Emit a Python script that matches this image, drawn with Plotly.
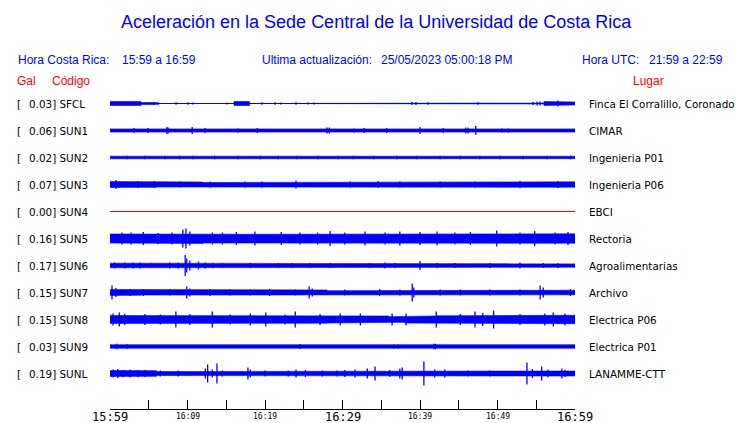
import plotly.graph_objects as go

# ---------------- data ----------------
codes = ["SFCL", "SUN1", "SUN2", "SUN3", "SUN4", "SUN5", "SUN6", "SUN7", "SUN8", "SUN9", "SUNL"]
places = ["Finca El Corralillo, Coronado", "CIMAR", "Ingenieria P01", "Ingenieria P06", "EBCI",
          "Rectoria", "Agroalimentarias", "Archivo", "Electrica P06", "Electrica P01", "LANAMME-CTT"]
gal = [0.03, 0.06, 0.02, 0.07, 0.00, 0.16, 0.17, 0.15, 0.15, 0.03, 0.19]

tick_minutes = [0, 10, 20, 30, 40, 50, 60]
tick_labels = ["15:59", "16:09", "16:19", "16:29", "16:39", "16:49", "16:59"]
tick_major = [True, False, False, True, False, False, True]

# envelope half-width of the continuous noise band, one value per 2-minute bin (15:59 -> 16:59)
band_SFCL = [2, 2, 1, 0, 0, 0, 0, 0, 2, 0, 0, 0, 0, 0, 0, 0, 0, 0, 0, 0, 0, 0, 0, 0, 0, 0, 0, 0.5, 2, 1.5]
band_SUN1 = [1.6, 1.5, 1.5, 1.5, 1.6, 1.5, 1.5, 1.5, 1.2, 1.4, 1.2, 1.5, 1.5, 1.5, 1.8, 1.5, 1.5, 1.5, 1.5, 1.5,
             1.5, 1.5, 1.5, 1.5, 1.3, 1.5, 1.5, 1.5, 1.5, 1.6]
band_SUN2 = [1.3, 1.2, 1.2, 1.3, 1.2, 1.1, 1.2, 1.2, 1.1, 1.2, 1.3, 1.2, 1.2, 1.1, 1.2, 1.2, 1.3, 1.2, 1.2, 1.1,
             1.2, 1.2, 1.2, 1.3, 1.2, 1.2, 1.1, 1.2, 1.3, 1.2]
band_SUN3 = [3, 3, 2.8, 2.5, 2.5, 2.5, 2, 2.5, 2.5, 2, 2, 2.5, 2.5, 2.5, 2.5, 2.5, 2.5, 2.2, 2.5, 2.5,
             2.5, 2.5, 2.5, 2.5, 2.5, 2.5, 2.5, 2.5, 2.7, 2.7]
band_SUN4 = [0, 0, 0, 0, 0, 0, 0, 0, 0, 0, 0, 0, 0, 0, 0, 0, 0, 0, 0, 0, 0, 0, 0, 0, 0, 0, 0, 0, 0, 0]
band_SUN5 = [4.5, 4.5, 4.3, 4.3, 4.3, 5, 4.5, 4.3, 4.2, 4.3, 4.5, 4.5, 4.5, 4.3, 4.3, 4.5, 4.3, 4.5, 4.5, 4.5,
             4.5, 4.5, 4.7, 4.5, 4.5, 4.5, 4.5, 4.5, 4.5, 4.7]
band_SUN6 = [2.3, 2.3, 2, 2, 2.3, 2.3, 2, 1.8, 1.7, 1.7, 1.7, 1.7, 1.7, 1.7, 1.7, 1.7, 1.8, 1.8, 1.7, 1.7,
             1.7, 1.7, 1.7, 1.7, 1.7, 1.7, 1.7, 1.8, 1.7, 1.7]
band_SUN7 = [3, 2.7, 2.5, 2.3, 2.3, 2.5, 2.3, 2.3, 2.3, 2.3, 2.5, 2.5, 2.3, 2.5, 1.8, 1.8, 2.3, 2.3, 2.3, 2.3,
             2.5, 2.3, 2.3, 2.3, 2.3, 2.5, 2.5, 2.3, 1.8, 2.3]
band_SUN8 = [4, 3.7, 3.5, 3.5, 3.5, 3.5, 3.5, 3.7, 3.5, 3.5, 3.5, 3.5, 3.5, 3.7, 3.5, 3.5, 3.5, 3.5, 2.8, 3.5,
             3.5, 3.7, 3.5, 4, 4.2, 3.5, 3.5, 3.5, 4, 4.2]
band_SUN9 = [1.8, 1.8, 1.8, 1.8, 1.8, 1.8, 1.8, 1.8, 1.8, 1.8, 1.8, 1.8, 1.8, 1.8, 1.8, 1.8, 1.8, 1.8, 1.8, 1.8,
             1.8, 1.8, 1.8, 1.8, 1.8, 1.8, 1.8, 1.8, 1.8, 1.8]
band_SUNL = [3, 3, 2.8, 2, 2, 2, 2.3, 2.2, 2, 2, 2, 2, 2, 2, 2, 2.2, 2, 2, 2, 2.2,
             2, 2, 2, 2, 2, 2, 2, 2.2, 2.5, 2.5]

# individual peaks: (minute after 15:59, half amplitude)
spikes_SFCL = [(5.68, 1.5), (6.19, 1.5), (8.52, 1.2), (10.06, 1.2), (10.71, 1), (15.1, 1), (19.6, 1.2),
               (21.3, 1.2), (22.06, 1), (24.0, 1.2), (25.55, 1), (26.3, 1), (38.97, 1.5), (39.48, 1.5),
               (41.03, 1.2), (47.48, 1.2), (54.58, 1.5), (55.1, 2), (55.48, 2), (57.8, 3)]
spikes_SUN1 = [(3.1, 2.5), (4.9, 2.5), (7.35, 3.5), (7.5, 3), (10.6, 3.5), (12.26, 2.5), (16.5, 2),
               (19.0, 2.5), (28.0, 3), (28.3, 3), (31.5, 2), (32.8, 2.5), (35.7, 2.5), (40.0, 3.5),
               (43.0, 2.5), (45.9, 3), (46.2, 3), (47.2, 4.5), (50.6, 2), (51.4, 2)]
spikes_SUN2 = [(2.2, 1.8), (4.5, 1.8), (7.1, 1.8), (9.0, 1.8), (10.7, 1.8), (13.5, 1.8), (16.5, 1.8),
               (19.4, 1.8), (21.7, 1.8), (24.1, 1.8), (26.8, 1.8), (29.4, 1.8), (31.4, 1.8), (34.0, 1.8),
               (37.0, 1.8), (39.6, 1.8), (42.6, 1.8), (45.2, 1.8), (47.7, 1.8), (50.3, 1.8), (53.3, 1.8),
               (56.4, 1.8), (59.4, 1.8)]
spikes_SUN3 = [(0.77, 4.5), (3.6, 3.5), (5.7, 3.5), (9.0, 3), (12.9, 3), (17.4, 3), (19.6, 3), (24.0, 4),
               (31.0, 3), (34.6, 3.5), (37.4, 3), (42.6, 3), (47.1, 3), (52.9, 3.5), (57.8, 3.5)]
spikes_SUN4 = []
spikes_SUN5 = [(1.55, 6), (2.7, 6), (4.3, 6.5), (6.2, 5.5), (8.0, 6), (9.4, 9), (9.8, 10), (10.3, 7),
               (13.2, 6), (14.5, 6), (16.3, 6.5), (18.7, 7), (22.1, 6.5), (24.5, 6), (26.8, 6), (28.4, 7.5),
               (30.3, 6), (32.9, 7), (35.5, 6), (37.4, 7), (40.0, 6.5), (42.2, 7), (44.5, 6), (46.5, 6.5),
               (49.9, 8), (52.9, 6), (54.8, 7.5), (57.4, 6), (59.1, 6.5)]
spikes_SUN6 = [(0.6, 3), (1.9, 3), (3.0, 3), (3.9, 3), (5.4, 2.5), (7.7, 3), (8.8, 3), (9.7, 10.5),
               (9.9, 7), (10.3, 5), (11.4, 4), (12.3, 3), (13.3, 2.5), (14.5, 2.5), (18.1, 2.5), (21.7, 2.5),
               (23.5, 2.5), (25.8, 2.5), (28.4, 2.5), (33.5, 2.5), (35.5, 3), (36.8, 2.5), (40.0, 4.5),
               (42.2, 2.5), (44.5, 2.5), (49.0, 2.5), (52.9, 3), (55.9, 2.5), (57.8, 2.5)]
spikes_SUN7 = [(0.26, 7), (0.77, 4.5), (2.6, 3.5), (4.3, 3.5), (7.7, 3), (9.9, 6), (10.3, 4), (12.9, 3.5),
               (15.5, 3), (18.1, 3), (20.6, 3.5), (23.9, 3), (25.7, 6), (26.1, 4), (30.3, 3), (34.8, 3.5),
               (37.4, 3), (39.0, 9), (39.2, 5), (42.6, 3), (45.2, 3), (49.0, 3), (52.9, 3), (55.5, 7),
               (55.9, 5), (59.4, 3.5)]
spikes_SUN8 = [(0.4, 6), (1.2, 7), (1.9, 5.5), (4.5, 5.5), (6.5, 5), (8.5, 8), (10.3, 5.5), (13.2, 8),
               (15.5, 5), (18.1, 6), (20.1, 7), (22.6, 5), (23.9, 8), (27.1, 5.5), (29.7, 6), (32.3, 6),
               (36.4, 6), (38.2, 6), (42.1, 8), (45.2, 5.5), (47.1, 8), (48.1, 6.5), (49.5, 9), (52.9, 5.5),
               (56.1, 6), (57.2, 7), (58.7, 6)]
spikes_SUN9 = [(0.9, 2.7), (2.2, 2.3), (24.5, 2.5), (36.6, 2), (37.2, 2), (41.8, 2.7), (42.0, 2.7)]
spikes_SUNL = [(0.4, 4), (1.0, 4.5), (1.7, 3.5), (2.6, 4), (3.6, 3.5), (4.5, 3.5), (6.5, 3), (8.8, 3),
               (12.3, 5), (12.6, 9), (13.2, 4), (13.8, 10), (14.5, 3), (17.8, 6), (18.1, 4), (20.0, 3),
               (23.0, 3), (24.0, 4), (25.2, 3.5), (27.4, 3), (29.3, 3), (30.3, 3.5), (31.6, 4), (33.2, 5),
               (34.2, 7), (36.1, 3.5), (37.4, 5), (37.7, 6), (40.5, 12), (41.9, 4), (43.2, 4), (46.2, 3),
               (49.0, 3), (53.8, 11), (54.5, 4.5), (55.7, 7), (56.5, 4), (58.3, 5), (58.7, 3.5)]

bands = [band_SFCL, band_SUN1, band_SUN2, band_SUN3, band_SUN4, band_SUN5,
         band_SUN6, band_SUN7, band_SUN8, band_SUN9, band_SUNL]
spikes = [spikes_SFCL, spikes_SUN1, spikes_SUN2, spikes_SUN3, spikes_SUN4, spikes_SUN5,
          spikes_SUN6, spikes_SUN7, spikes_SUN8, spikes_SUN9, spikes_SUNL]
BIN_MIN = 2
SPAN_MIN = 60

# ---------------- layout constants ----------------
W, H = 740, 423
L, R, T, B = 110, 575, 90, 409
ROW0, ROW_GAP = 13.5, 27
BLUE, RED = "#0000ff", "#ff0000"


def px_x(p):
    return (p - L) / (R - L)


def px_y(p):
    return (B - p) / (B - T)


fig = go.Figure()

for i, code in enumerate(codes):
    off = -(ROW0 + ROW_GAP * i)
    color = RED if gal[i] == 0 else BLUE
    # baseline
    fig.add_trace(go.Scatter(x=[0, SPAN_MIN], y=[off, off], mode="lines",
                             line=dict(color=color, width=1), hoverinfo="skip"))
    band = bands[i]
    if any(a > 0 for a in band):
        xs, ys = [], []
        for k, a in enumerate(band):
            xs += [k * BIN_MIN, (k + 1) * BIN_MIN]
            ys += [off + a, off + a]
        for k in range(len(band) - 1, -1, -1):
            a = band[k]
            xs += [(k + 1) * BIN_MIN, k * BIN_MIN]
            ys += [off - a, off - a]
        fig.add_trace(go.Scatter(x=xs, y=ys, mode="lines", fill="toself", fillcolor=color,
                                 line=dict(color=color, width=0.6), hoverinfo="skip"))
    if spikes[i]:
        sx, sy = [], []
        for m, a in spikes[i]:
            sx += [m, m, None]
            sy += [off - a, off + a, None]
        fig.add_trace(go.Scatter(x=sx, y=sy, mode="lines", line=dict(color=color, width=1.3),
                                 hoverinfo="skip"))

ann = []
LAB = dict(family="DejaVu Sans", size=10.4, color="black")
for i, code in enumerate(codes):
    off = -(ROW0 + ROW_GAP * i)
    ann.append(dict(x=px_x(15), y=off, xref="paper", yref="y", text="[", showarrow=False,
                    xanchor="left", yanchor="middle", font=LAB))
    ann.append(dict(x=px_x(27), y=off, xref="paper", yref="y", text=f"{gal[i]:.2f}] {code}",
                    showarrow=False, xanchor="left", yanchor="middle", font=LAB))
    ann.append(dict(x=px_x(587), y=off, xref="paper", yref="y", text=places[i], showarrow=False,
                    xanchor="left", yanchor="middle", font=LAB))

HDR = dict(family="Liberation Sans", size=12, color=BLUE)
RHDR = dict(family="Liberation Sans", size=12, color=RED)
ann += [
    dict(x=px_x(376.5), y=px_y(21.5), text="Aceleración en la Sede Central de la Universidad de Costa Rica",
         xanchor="center", font=dict(family="Liberation Sans", size=18, color=BLUE)),
    dict(x=px_x(15.5), y=px_y(60.5), text="Hora Costa Rica:", xanchor="left", font=HDR),
    dict(x=px_x(120), y=px_y(60.5), text="15:59 a 16:59", xanchor="left", font=HDR),
    dict(x=px_x(260), y=px_y(60.5), text="Ultima actualización:", xanchor="left", font=HDR),
    dict(x=px_x(379), y=px_y(60.5), text="25/05/2023 05:00:18 PM", xanchor="left", font=HDR),
    dict(x=px_x(580), y=px_y(60.5), text="Hora UTC:", xanchor="left", font=HDR),
    dict(x=px_x(725), y=px_y(60.5), text="21:59 a 22:59", xanchor="right", font=HDR),
    dict(x=px_x(15), y=px_y(80.5), text="Gal", xanchor="left", font=RHDR),
    dict(x=px_x(50), y=px_y(80.5), text="Código", xanchor="left", font=RHDR),
    dict(x=px_x(631), y=px_y(80.5), text="Lugar", xanchor="left", font=RHDR),
]
for a in ann[-10:]:
    a.update(xref="paper", yref="paper", showarrow=False, yanchor="middle")

for m, lab, big in zip(tick_minutes, tick_labels, tick_major):
    ann.append(dict(x=m, y=px_y(416.5), xref="x", yref="paper", text=lab, showarrow=False,
                    xanchor="center", yanchor="middle",
                    font=dict(family="DejaVu Sans Mono", size=12 if big else 8, color="black")))

fig.update_layout(
    width=W, height=H,
    margin=dict(l=L, r=W - R, t=T, b=H - B, pad=0),
    paper_bgcolor="white", plot_bgcolor="white",
    showlegend=False,
    annotations=ann,
    xaxis=dict(range=[0, SPAN_MIN], showgrid=False, zeroline=False, showline=True, linecolor="black",
               linewidth=1, ticks="inside", ticklen=9, tickcolor="black", tickwidth=1,
               tick0=0, dtick=5, showticklabels=False, fixedrange=True),
    yaxis=dict(range=[-(B - T), 0], visible=False, fixedrange=True),
)

fig.write_html("out.html", config={"displayModeBar": False},
               post_script="document.body.style.margin='0';document.body.style.overflow='hidden';")
